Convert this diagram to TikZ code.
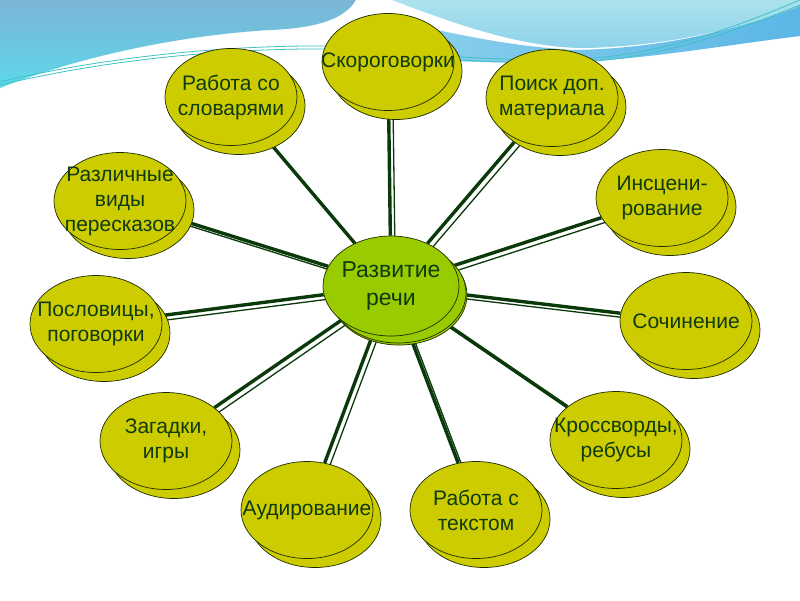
\documentclass[tikz,border=0pt]{standalone}
\usepackage{fontspec}
\setmainfont{Liberation Sans}
\usepackage{tikz}
\usetikzlibrary{shapes.geometric,shadows,backgrounds}
\definecolor{krugfill}{HTML}{CCCC00}
\definecolor{hubfill}{HTML}{99CC00}
\definecolor{krugline}{HTML}{1E2E00}
\definecolor{textgreen}{HTML}{103A10}
\definecolor{linkgreen}{HTML}{0A3A0A}
\definecolor{wavetop}{HTML}{7CB4D6}
\definecolor{wavecyan}{HTML}{5DD8EA}
\definecolor{wavelight}{HTML}{ACE2EC}
\definecolor{wavemid}{HTML}{8ED2EC}
\definecolor{waveblue}{HTML}{5CB6E6}
\definecolor{waveteal}{HTML}{3EC2C4}

\begin{document}
\begin{tikzpicture}[
    x=1pt,y=-1pt,
    krug/.style = {ellipse,draw=krugline,line width=0.7pt,fill=krugfill,
                   minimum width=132pt,minimum height=97pt,
                   inner xsep=-30pt,inner ysep=-14pt,align=center,
                   text=textgreen,font=\fontsize{21}{25}\selectfont,
                   copy shadow={shadow xshift=8pt,shadow yshift=-9pt}},
    hub/.style  = {krug,fill=hubfill,minimum width=136pt,minimum height=100pt,
                   font=\fontsize{23}{28}\selectfont,
                   copy shadow={shadow xshift=7pt,shadow yshift=-7pt}},
    link/.style = {draw=linkgreen,line width=3.4pt,
                   preaction={draw=linkgreen,line width=1.3pt,
                              transform canvas={shift={(4.5pt,-4.5pt)}}}},
    wline/.style= {waveteal,line width=0.8pt},
  ]
  \useasboundingbox (0,0) rectangle (800,600);

  \node[hub]  (rech)  at (391,286) {Развитие\\речи};

  \node[krug] (skor)  at (388,62)  {Скороговорки};
  \node[krug] (slov)  at (231,97)  {Работа со\\словарями};
  \node[krug] (poisk) at (552,98)  {Поиск доп.\\материала};
  \node[krug] (insc)  at (662,198) {Инсцени-\\рование};
  \node[krug] (soch)  at (686,321) {Сочинение};
  \node[krug] (kross) at (616,440) {Кроссворды,\\ребусы};
  \node[krug] (tekst) at (476,510) {Работа с\\текстом};
  \node[krug] (aud)   at (307,510) {Аудирование};
  \node[krug] (zag)   at (166,441) {Загадки,\\игры};
  \node[krug] (posl)  at (96,324)  {Пословицы,\\поговорки};
  \node[krug] (pere)  at (120,201) {Различные\\виды\\пересказов};

  \begin{scope}[on background layer]
    % фон слайда
    \fill[white] (0,0) rectangle (800,600);
    \shade[top color=wavetop,bottom color=wavecyan]
      (0,0) -- (356,0) .. controls (345,18) and (320,28) .. (270,30)
      .. controls (170,36) and (70,60) .. (0,88) -- cycle;
    \shade[left color=wavemid,right color=waveblue]
      (380,18) .. controls (440,30) and (500,46) .. (575,50)
      .. controls (680,48) and (760,22) .. (800,4) -- (800,36)
      .. controls (720,46) and (640,60) .. (570,62)
      .. controls (480,64) and (420,60) .. (370,55) -- cycle;
    \shade[top color=wavelight,bottom color=wavemid]
      (392,0) -- (800,0) -- (800,6) .. controls (760,22) and (680,46) .. (585,48)
      .. controls (520,48) and (450,22) .. (392,0) -- cycle;
    \draw[wline] (0,82) .. controls (100,58) and (220,45) .. (330,46)
      .. controls (400,50) and (450,60) .. (560,60)
      .. controls (660,58) and (740,25) .. (800,0);
    \draw[wline] (0,85) .. controls (100,61) and (220,48) .. (330,49)
      .. controls (400,53) and (450,63) .. (560,63)
      .. controls (660,61) and (740,29) .. (800,5);

    \draw[link] (rech) -- (skor);
    \draw[link] (rech) -- (slov);
    \draw[link] (rech) -- (poisk);
    \draw[link] (rech) -- (insc);
    \draw[link] (rech) -- (soch);
    \draw[link] (rech) -- (kross);
    \draw[link] (rech) -- (tekst);
    \draw[link] (rech) -- (aud);
    \draw[link] (rech) -- (zag);
    \draw[link] (rech) -- (posl);
    \draw[link] (rech) -- (pere);
  \end{scope}

\end{tikzpicture}
\end{document}
